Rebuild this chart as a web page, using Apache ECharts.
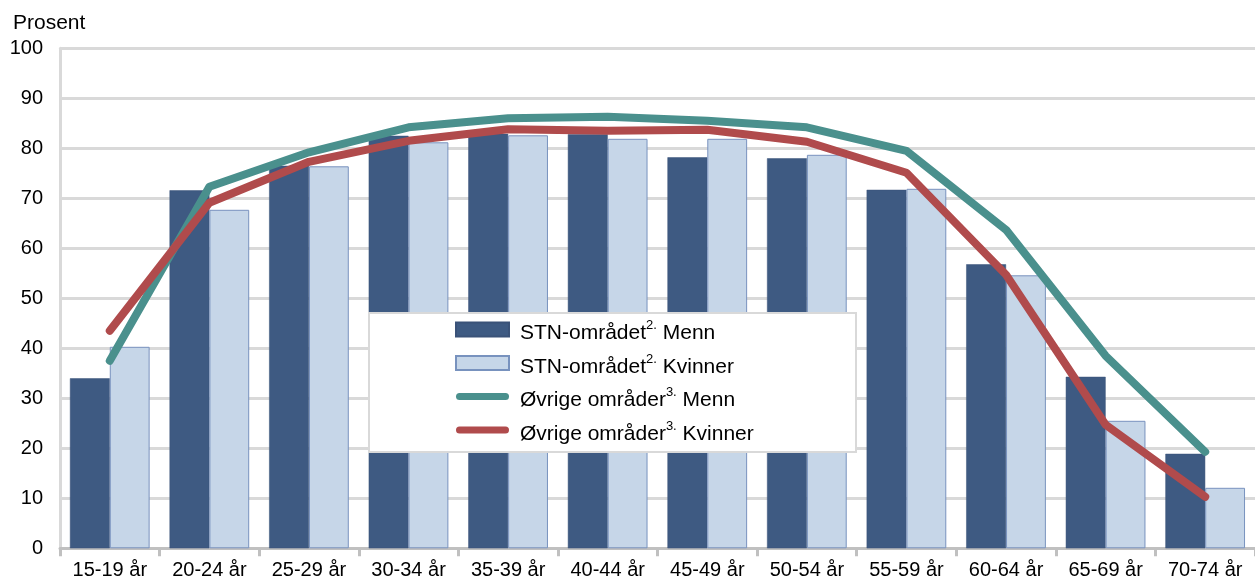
<!DOCTYPE html>
<html>
<head>
<meta charset="utf-8">
<script src="https://cdn.jsdelivr.net/npm/echarts@6/dist/echarts.min.js"></script>
<style>
html,body{margin:0;padding:0;background:#fff;}
#c{width:1255px;height:581px;}
</style>
</head>
<body>
<div id="c"></div>
<script>
const categories = ['15-19 år','20-24 år','25-29 år','30-34 år','35-39 år','40-44 år','45-49 år','50-54 år','55-59 år','60-64 år','65-69 år','70-74 år'];
const stnMenn     = [34.0, 71.6, 76.5, 82.5, 82.9, 82.8, 78.2, 78.0, 71.7, 56.8, 34.3, 18.9];
const stnKvinner  = [40.3, 67.7, 76.4, 81.2, 82.6, 81.9, 81.9, 78.7, 71.9, 54.6, 25.5, 12.1];
const ovrMenn     = [37.5, 72.3, 79.2, 84.2, 86.0, 86.3, 85.5, 84.2, 79.5, 63.7, 38.5, 19.3];
const ovrKvinner  = [43.5, 69.1, 77.3, 81.5, 83.8, 83.5, 83.7, 81.3, 75.1, 54.7, 24.7, 10.3];
const yTicks = [0,10,20,30,40,50,60,70,80,90,100];

const FONT = '"Liberation Sans", Arial, sans-serif';
const legendLabels = {
  'STN-området Menn': ['STN-området','2.',' Menn'],
  'STN-området Kvinner': ['STN-området','2.',' Kvinner'],
  'Øvrige områder Menn': ['Øvrige områder','3.',' Menn'],
  'Øvrige områder Kvinner': ['Øvrige områder','3.',' Kvinner']
};
const lineIcon = 'path://M3.5,0 L49.5,0 A3.5,3.5 0 0 1 49.5,7 L3.5,7 A3.5,3.5 0 0 1 3.5,0 Z';

const chart = echarts.init(document.getElementById('c'), null, {renderer:'canvas'});
chart.setOption({
  animation:false,
  backgroundColor:'#ffffff',
  textStyle:{fontFamily:FONT},
  title:{text:'Prosent', left:13, top:13, padding:0,
    textStyle:{fontFamily:FONT, fontSize:21, fontWeight:'normal', color:'#000'}},
  grid:{left:60, top:48.3, width:1200, height:500, containLabel:false},
  xAxis:{
    type:'category', data:categories, boundaryGap:true,
    axisLine:{lineStyle:{color:'#c0c0c0', width:3}},
    axisTick:{show:true, length:8, lineStyle:{color:'#c0c0c0', width:3}},
    axisLabel:{color:'#000', fontSize:20, fontFamily:FONT, margin:12, interval:0},
    splitLine:{show:false}
  },
  yAxis:{
    type:'value', min:0, max:100, interval:10,
    axisLine:{show:true, lineStyle:{color:'#d9d9d9', width:3}},
    axisTick:{show:false},
    axisLabel:{color:'#000', fontSize:20, fontFamily:FONT, margin:17,
      formatter:function(v){return yTicks.indexOf(v)>=0 ? String(v) : '';}},
    splitLine:{show:true, lineStyle:{color:'#d9d9d9', width:3}}
  },
  legend:{
    orient:'vertical', left:455, top:315, padding:0,
    itemWidth:53, itemHeight:14, itemGap:4.5,
    data:[
      {name:'STN-området Menn', icon:'rect'},
      {name:'STN-området Kvinner', icon:'rect'},
      {name:'Øvrige områder Menn', icon:lineIcon},
      {name:'Øvrige områder Kvinner', icon:lineIcon}
    ],
    formatter:function(n){const p=legendLabels[n]; return '{b|'+p[0]+'}{s|'+p[1]+'}{a|'+p[2]+'}';},
    textStyle:{
      fontFamily:FONT, color:'#000',
      rich:{
        b:{fontSize:21, fontFamily:FONT, color:'#000', lineHeight:20, padding:[8,0,0,6]},
        a:{fontSize:21, fontFamily:FONT, color:'#000', lineHeight:20, padding:[8,0,0,0]},
        s:{fontSize:13, fontFamily:FONT, color:'#000', lineHeight:20, padding:[0,0,8,0]}
      }
    },
    z:10
  },
  graphic:[{
    type:'rect', left:368, top:312, z:5,
    shape:{width:487, height:139},
    style:{fill:'#ffffff', stroke:'#d9d9d9', lineWidth:2}
  }],
  series:[
    {name:'STN-området Menn', type:'bar', data:stnMenn, barWidth:'40%', barGap:'0%',
      itemStyle:{color:'#3e5a82', borderColor:'#3a5278', borderWidth:0.5}, z:2},
    {name:'STN-området Kvinner', type:'bar', data:stnKvinner, barWidth:'40%', barGap:'0%',
      itemStyle:{color:'#c6d6e8', borderColor:'#7892be', borderWidth:1}, z:2},
    {name:'Øvrige områder Menn', type:'line', data:ovrMenn, symbol:'none',
      lineStyle:{color:'#4a908d', width:8, cap:'round', join:'round'}, itemStyle:{color:'#4a908d'}, z:3},
    {name:'Øvrige områder Kvinner', type:'line', data:ovrKvinner, symbol:'none',
      lineStyle:{color:'#b04b4c', width:8, cap:'round', join:'round'}, itemStyle:{color:'#b04b4c'}, z:3}
  ]
});
</script>
</body>
</html>
